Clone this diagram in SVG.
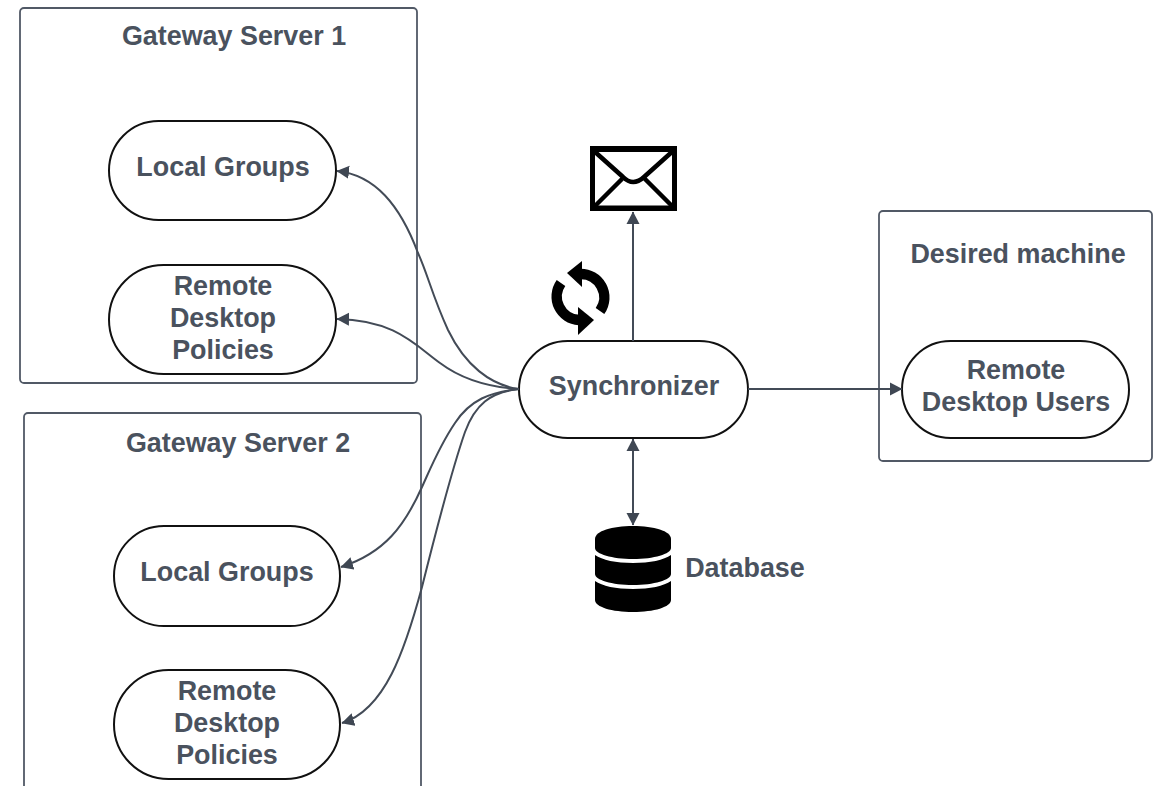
<svg xmlns="http://www.w3.org/2000/svg" width="1160" height="786" viewBox="0 0 1160 786">
<style>
.box{fill:#fff;stroke:#515966;stroke-width:1.8}
.pill{fill:#fff;stroke:#111;stroke-width:2}
text{font-family:"Liberation Sans",Arial,sans-serif;font-weight:700;font-size:26.9px;fill:#4a525e;text-anchor:middle}
.c{fill:none;stroke:#434b57;stroke-width:2}
.ic{fill:#000;stroke:none}
</style>
<defs>
<marker id="a" markerUnits="userSpaceOnUse" markerWidth="13" markerHeight="14" refX="12" refY="7" orient="auto-start-reverse" viewBox="0 0 13 14"><path d="M0 0.5L12.5 7L0 13.5Z" fill="#3f4753"/></marker>
</defs>
<rect width="1160" height="786" fill="#fff"/>
<g id="gateway1"><rect class="box" x="20" y="8" width="397" height="375" rx="4"/><text x="234" y="45">Gateway Server 1</text></g>
<g id="gateway2"><path class="box" d="M24 787V417a4 4 0 0 1 4-4H417a4 4 0 0 1 4 4V787"/><text x="238" y="452">Gateway Server 2</text></g>
<g id="desired"><rect class="box" x="879" y="211" width="273" height="250" rx="4"/><text x="1018" y="263">Desired machine</text></g>
<g id="g1-local"><rect class="pill" x="109" y="121" width="227" height="99" rx="49.5"/><text x="223" y="176">Local Groups</text></g>
<g id="g1-policies"><rect class="pill" x="109" y="265" width="227" height="109" rx="54.5"/><text x="223" y="295">Remote</text><text x="223" y="327">Desktop</text><text x="223" y="359">Policies</text></g>
<g id="g2-local"><rect class="pill" x="114" y="526" width="226" height="100" rx="50"/><text x="227" y="581">Local Groups</text></g>
<g id="g2-policies"><rect class="pill" x="114" y="670" width="226" height="109" rx="54.5"/><text x="227" y="700">Remote</text><text x="227" y="732">Desktop</text><text x="227" y="764">Policies</text></g>
<g id="rdu"><rect class="pill" x="902" y="341" width="227" height="97" rx="48.5"/><text x="1016" y="379">Remote</text><text x="1016" y="411">Desktop Users</text></g>
<g id="synchronizer"><rect class="pill" x="519" y="341" width="229" height="97" rx="48.5"/><text x="634" y="395">Synchronizer</text></g>
<g id="connectors">
<path class="c" marker-end="url(#a)" d="M519 389C490 385 465 365 448 330C432 295 428 275 418 253C400 205 375 175 337 171"/>
<path class="c" marker-end="url(#a)" d="M519 389C485 387 460 378 440 363C415 345 395 320 337 319"/>
<path class="c" marker-end="url(#a)" d="M519 389C490 392 470 400 455 423C440 445 432 465 422 487C405 525 385 553 341 567"/>
<path class="c" marker-end="url(#a)" d="M519 389C490 392 475 405 465 432C450 475 435 535 422 587C405 650 385 710 342 723"/>
<path class="c" marker-end="url(#a)" d="M633 341V212"/>
<path class="c" marker-start="url(#a)" marker-end="url(#a)" d="M633 439V525"/>
<path class="c" marker-end="url(#a)" d="M748 389H902"/>
</g>
<g id="mail-icon"><path class="ic" fill-rule="evenodd" d="M590 146H677V211H590ZM595 152V205.500H672V152Z"/><path d="M594 151L623 177Q633 187 644 177L673 151M594 207L622 179M673 207L645 179" fill="none" stroke="#000" stroke-width="4.500"/></g>
<g id="sync-icon" fill="none"><path d="M580 274A23.500 23.500 0 0 1 600 311" stroke="#000" stroke-width="10.500"/><path class="ic" d="M582 261V287L567 273Z"/><path d="M579 320A23.500 23.500 0 0 1 561 283" stroke="#000" stroke-width="10.500"/><path class="ic" d="M578 307V335L594 320Z"/></g>
<g id="database-icon"><path class="ic" d="M595 539C595 531 612 526 633 526S671 531 671 539V548C671 554 654 559 633 559S595 554 595 548Z"/><path class="ic" d="M595 555C602 560 616 563 633 563S664 560 671 555V574C671 580 654 585 633 585S595 580 595 574Z"/><path class="ic" d="M595 581C602 586 616 589 633 589S664 586 671 581V600C671 607 654 612 633 612S595 607 595 600Z"/></g>
<text x="745" y="577">Database</text>
</svg>
